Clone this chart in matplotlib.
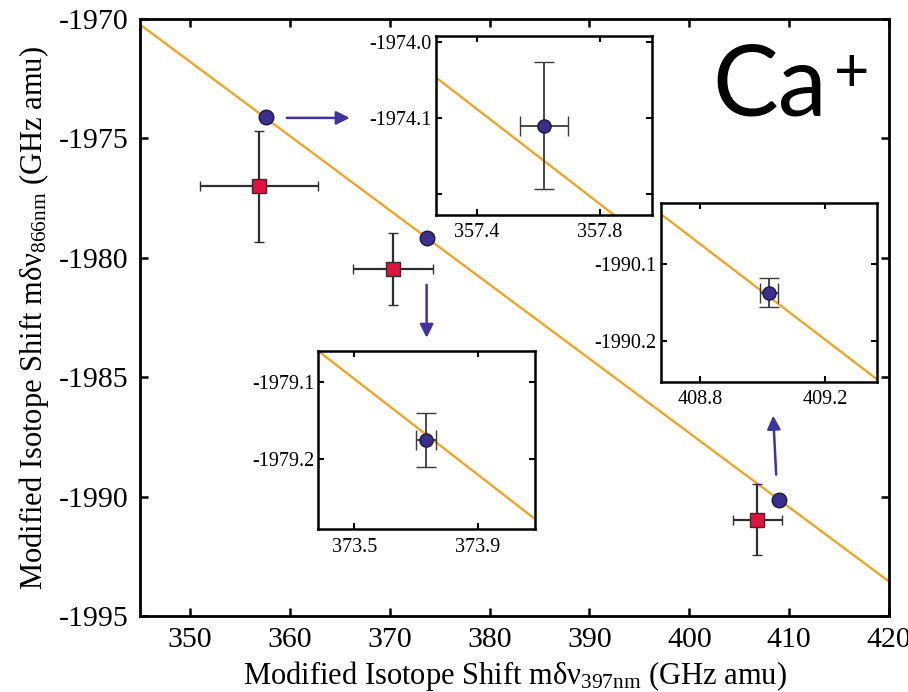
import matplotlib
matplotlib.use("Agg")
import matplotlib.pyplot as plt

plt.rcParams['font.family'] = ['Liberation Serif', 'DejaVu Serif']
plt.rcParams['mathtext.fontset'] = 'custom'
plt.rcParams['mathtext.rm'] = 'Liberation Serif'
plt.rcParams['mathtext.it'] = 'Liberation Serif:italic'
plt.rcParams['axes.unicode_minus'] = False

# ---- data ----
line_x = [345.0, 420.0]
line_y = [-1970.232, -1993.557]

circ_x = [357.618, 373.733, 409.020]
circ_y = [-1974.110, -1979.175, -1990.137]
circ_xerr = [0.078, 0.032, 0.03]
circ_yerr = [0.083, 0.035, 0.019]

sq_x = [356.9, 370.3, 406.8]
sq_y = [-1977.0, -1980.46, -1990.96]
sq_xerr = [5.9, 4.0, 2.45]
sq_yerr = [2.33, 1.5, 1.48]

main_xticks = [350, 360, 370, 380, 390, 400, 410, 420]
main_yticks = [-1995, -1990, -1985, -1980, -1975, -1970]

ins_xlims = [(357.267, 357.969), (373.383, 374.086), (408.674, 409.364)]
ins_ylims = [(-1974.227, -1973.9926), (-1979.291, -1979.059), (-1990.253, -1990.020)]
ins_xticks = [[357.4, 357.8], [373.5, 373.9], [408.8, 409.2]]
ins_yticks = [[-1974.2, -1974.1, -1974.0], [-1979.2, -1979.1], [-1990.2, -1990.1]]
ins_ylabels = [['', '-1974.1', '-1974.0'], ['-1979.2', '-1979.1'], ['-1990.2', '-1990.1']]

arrows = [((359.7, -1974.14), (366.0, -1974.14)),
          ((373.7, -1981.13), (373.7, -1983.35)),
          ((408.7, -1989.08), (408.4, -1986.61))]

LINE_C = '#f6a01a'
CIRC_C = '#3a2e8e'
SQ_C = '#e2123f'
ERR_C = '#2e2e2e'
ARR_C = '#3f34a0'

fig = plt.figure(figsize=(9.08, 6.92), dpi=100)
ax = fig.add_axes([0.1542, 0.1098, 0.8249, 0.8627])

ax.plot(line_x, line_y, color=LINE_C, lw=1.6, zorder=1)
ax.errorbar(sq_x, sq_y, xerr=sq_xerr, yerr=sq_yerr, fmt='s', ms=10,
            mfc=SQ_C, mec='#3a2a2a', mew=1.0, ecolor=ERR_C, elinewidth=1.6,
            capsize=3.5, capthick=1.6, zorder=3)
ax.plot(circ_x, circ_y, 'o', ms=10.5, mfc=CIRC_C, mec='#1e1a3a', mew=1.0, zorder=4)

for (tail, head) in arrows:
    ax.annotate('', xy=head, xytext=tail,
                arrowprops=dict(arrowstyle='-|>', color=ARR_C, lw=1.8,
                                mutation_scale=20, shrinkA=0, shrinkB=0))

ax.set_xlim(345, 420)
ax.set_ylim(-1995, -1970)
ax.set_xticks(main_xticks)
ax.set_yticks(main_yticks)
ax.tick_params(direction='in', length=6, width=1.8, top=True, right=True,
               labelsize=21.5, pad=8)
for s in ax.spines.values():
    s.set_linewidth(2.0)

ax.set_xlabel('Modified Isotope Shift mδν$_{\\mathrm{397nm}}$ (GHz amu)', fontsize=22, labelpad=4)
ax.set_ylabel('Modified Isotope Shift mδν$_{\\mathrm{866nm}}$ (GHz amu)', fontsize=22, labelpad=6)

ax.text(0.764, 0.885, 'Ca', transform=ax.transAxes, fontsize=71,
        family='Lato', ha='left', va='center')
ax.text(0.926, 0.909, '+', transform=ax.transAxes, fontsize=44,
        family='Lato', ha='left', va='center')

ins_rects = [[0.4802, 0.6893, 0.2379, 0.2587],
             [0.3506, 0.2351, 0.2387, 0.2577],
             [0.7276, 0.4480, 0.2379, 0.2591]]

for i, rect in enumerate(ins_rects):
    ia = fig.add_axes(rect)
    ia.plot(line_x, line_y, color=LINE_C, lw=1.6, zorder=1)
    ia.errorbar([circ_x[i]], [circ_y[i]], xerr=[circ_xerr[i]], yerr=[circ_yerr[i]],
                fmt='o', ms=9.5, mfc=CIRC_C, mec='#1e1a3a', mew=1.0,
                ecolor='#3a3a3a', elinewidth=1.3, capsize=7, capthick=1.3, zorder=3)
    ia.set_xlim(*ins_xlims[i])
    ia.set_ylim(*ins_ylims[i])
    ia.set_xticks(ins_xticks[i])
    ia.set_xticklabels([f'{v:.1f}' for v in ins_xticks[i]])
    ia.set_yticks(ins_yticks[i])
    ia.set_yticklabels(ins_ylabels[i])
    ia.tick_params(direction='in', length=4, width=1.5, top=True, right=True,
                   labelsize=14.5)
    ia.tick_params(axis='x', pad=6)
    ia.tick_params(axis='y', pad=3)
    for s in ia.spines.values():
        s.set_linewidth(1.8)

fig.savefig('out.png', dpi=100)
